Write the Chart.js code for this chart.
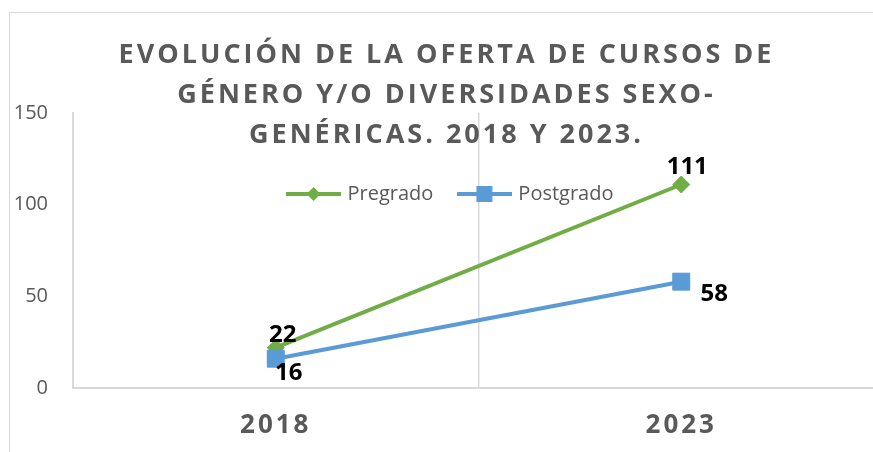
<!DOCTYPE html>
<html><head><meta charset="utf-8">
<script src="https://cdn.jsdelivr.net/npm/chart.js@4"></script>
<style>
html,body{margin:0;padding:0;width:873px;height:452px;overflow:hidden;background:#fff;}
#frame{position:absolute;left:9px;top:12px;width:2000px;height:2000px;border:1px solid #d9d9d9;box-sizing:border-box;}
#wrap{position:absolute;left:0;top:0;width:900px;height:452px;}
</style></head><body>
<div id="frame"></div>
<div id="wrap"><canvas id="c" width="900" height="452"></canvas></div>
<script>
const categories = ['2018', '2023'];
const pregrado = [22, 111];
const postgrado = [16, 58];
const seriesNames = ['Pregrado', 'Postgrado'];
const yTicks = [0, 50, 100, 150];
const titleLines = ['EVOLUCIÓN DE LA OFERTA DE CURSOS DE', 'GÉNERO Y/O DIVERSIDADES SEXO-', 'GENÉRICAS. 2018 Y 2023.'];

const GREEN = '#70AD47', BLUE = '#5B9BD5', GREY = '#595959', LINE = '#D9D9D9';
const FONT = '"Open Sans", "DejaVu Sans", sans-serif';

function makeIcon(color, shape) {
  const c = document.createElement('canvas'); c.width = 55; c.height = 20;
  const g = c.getContext('2d');
  g.strokeStyle = color; g.lineWidth = 4;
  g.beginPath(); g.moveTo(0, 10); g.lineTo(55, 10); g.stroke();
  g.fillStyle = color;
  if (shape === 'diamond') {
    g.beginPath(); g.moveTo(20.5, 10); g.lineTo(27.5, 3); g.lineTo(34.5, 10); g.lineTo(27.5, 17); g.closePath(); g.fill();
  } else {
    g.fillRect(19.5, 2, 16, 16);
  }
  return c;
}
const legendIcons = [makeIcon(GREEN, 'diamond'), makeIcon(BLUE, 'square')];

// label offsets relative to each point (dx, dy of label centre)
const labelOffsets = [[[7, -14], [6, -19]], [[13, 13], [33, 11]]];

const titlePlugin = {
  id: 'spacedTitle',
  afterDraw(chart) {
    const ctx = chart.ctx;
    ctx.save();
    ctx.font = 'bold 27px ' + FONT;
    ctx.fillStyle = GREY;
    ctx.letterSpacing = '3px';
    ctx.textAlign = 'center';
    ctx.textBaseline = 'alphabetic';
    titleLines.forEach((t, i) => ctx.fillText(t, 446.5, 63 + i * 40));
    ctx.restore();
  }
};

const spacedXLabels = {
  id: 'spacedXLabels',
  beforeDraw(chart) {
    const s = chart.scales.x;
    if (!s._spaced) {
      const orig = s.drawLabels;
      s.drawLabels = function (a) {
        const ctx = this.ctx; ctx.save(); ctx.letterSpacing = '3px';
        orig.call(this, a); ctx.restore();
      };
      s._spaced = true;
    }
  }
};

const legendShift = {
  id: 'legendShift',
  beforeLayout(chart) {
    if (chart.legend) chart.legend.isHorizontal = () => true;
  },
  afterLayout(chart) {
    const l = chart.legend;
    l.top += 44; l.bottom += 44; l.left += 46; l.right += 46;
  }
};

const dataLabels = {
  id: 'dataLabels',
  afterDatasetsDraw(chart) {
    const ctx = chart.ctx;
    ctx.save();
    ctx.font = 'bold 24px ' + FONT;
    ctx.fillStyle = '#000';
    ctx.textAlign = 'center';
    ctx.textBaseline = 'alphabetic';
    chart.data.datasets.forEach((ds, di) => {
      const meta = chart.getDatasetMeta(di);
      meta.data.forEach((pt, i) => {
        const [dx, dy] = labelOffsets[di][i];
        ctx.fillText(String(ds.data[i]), pt.x + dx, pt.y + dy + 0.357 * 24);
      });
    });
    ctx.restore();
  }
};

new Chart(document.getElementById('c'), {
  type: 'line',
  data: {
    labels: categories,
    datasets: [
      { label: seriesNames[0], data: pregrado, borderColor: GREEN, backgroundColor: GREEN,
        borderWidth: 4, pointStyle: 'rectRot', pointRadius: 8.5, pointBorderWidth: 1, tension: 0, order: 1 },
      { label: seriesNames[1], data: postgrado, borderColor: BLUE, backgroundColor: BLUE,
        borderWidth: 4, pointStyle: 'rect', pointRadius: 12, pointBorderWidth: 1, tension: 0, order: 0 }
    ]
  },
  options: {
    responsive: false,
    animation: false,
    layout: { padding: { left: 10, top: 113, right: 16, bottom: 0 } },
    plugins: {
      title: { display: false },
      tooltip: { enabled: false },
      legend: {
        position: 'chartArea',
        align: 'center',
        labels: {
          usePointStyle: true, pointStyleWidth: 48, padding: 27,
          font: { family: FONT, size: 20 }, color: GREY,
          generateLabels(chart) {
            return chart.data.datasets.map((ds, i) => ({
              text: ds.label, pointStyle: legendIcons[i], datasetIndex: i, hidden: false,
              lineWidth: 0, strokeStyle: ds.borderColor, fillStyle: ds.backgroundColor, fontColor: GREY
            }));
          }
        }
      }
    },
    scales: {
      x: {
        type: 'category', offset: true,
        grid: { display: true, offset: true, color: LINE, lineWidth: 1.5, drawTicks: false },
        border: { display: true, color: LINE, width: 2 },
        ticks: { font: { family: FONT, size: 26, weight: 'bold' }, color: GREY, padding: 22 },
        afterFit(s) { s.height = 64; }
      },
      y: {
        min: 0, max: 150,
        afterBuildTicks(s) { s.ticks = yTicks.map(v => ({ value: v })); },
        grid: { display: false, drawTicks: false },
        border: { display: true, color: LINE, width: 2 },
        ticks: { font: { family: FONT, size: 20 }, color: GREY, padding: 25 },
        afterFit(s) { s.width = 63; }
      }
    }
  },
  plugins: [titlePlugin, spacedXLabels, legendShift, dataLabels]
});
</script>
</body></html>
